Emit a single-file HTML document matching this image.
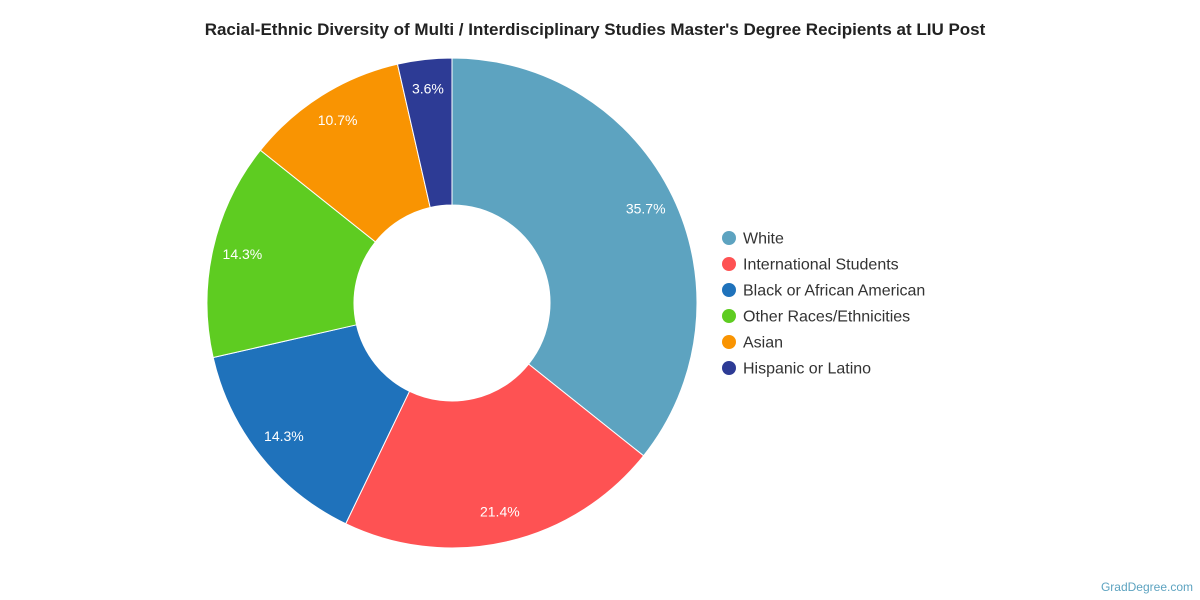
<!DOCTYPE html>
<html><head><meta charset="utf-8"><style>
html,body{margin:0;padding:0;background:#fff;}
svg{display:block;font-family:"Liberation Sans",Arial,sans-serif;}
</style></head><body>
<svg id="s" width="1200" height="600" viewBox="0 0 1200 600">
<text x="595" y="35" text-anchor="middle" font-size="17" font-weight="bold" fill="#222">Racial-Ethnic Diversity of Multi / Interdisciplinary Studies Master's Degree Recipients at LIU Post</text>
<g id="pie"></g>
<g font-size="16" fill="#333">
<circle cx="729" cy="238" r="7" fill="#5da3c0"/><text x="743" y="243.5">White</text>
<circle cx="729" cy="264" r="7" fill="#fe5253"/><text x="743" y="269.5">International Students</text>
<circle cx="729" cy="290" r="7" fill="#1f72bb"/><text x="743" y="295.5">Black or African American</text>
<circle cx="729" cy="316" r="7" fill="#5ecc21"/><text x="743" y="321.5">Other Races/Ethnicities</text>
<circle cx="729" cy="342" r="7" fill="#f99402"/><text x="743" y="347.5">Asian</text>
<circle cx="729" cy="368" r="7" fill="#2d3b95"/><text x="743" y="373.5">Hispanic or Latino</text>
</g>
<text x="1193" y="591" text-anchor="end" font-size="12" fill="#5da3c0">GradDegree.com</text>
</svg>
<script>
var cx=452,cy=303,R=245,r=98,L=215;
var d=[[10,"#5da3c0","35.7%"],[6,"#fe5253","21.4%"],[4,"#1f72bb","14.3%"],[4,"#5ecc21","14.3%"],[3,"#f99402","10.7%"],[1,"#2d3b95","3.6%"]];
var g=document.getElementById("pie"),h="",a=0;
function p(rad,ang){return [cx+rad*Math.sin(ang),cy-rad*Math.cos(ang)];}
d.forEach(function(s){
var a0=a/28*2*Math.PI;a+=s[0];var a1=a/28*2*Math.PI;var lg=(a1-a0)>Math.PI?1:0;
var A=p(R,a0),B=p(R,a1),C=p(r,a1),D=p(r,a0);
h+='<path d="M'+A+' A'+R+','+R+' 0 '+lg+' 1 '+B+' L'+C+' A'+r+','+r+' 0 '+lg+' 0 '+D+' Z" fill="'+s[1]+'" stroke="#fff" stroke-width="1"/>';
var m=p(L,(a0+a1)/2);
h+='<text x="'+m[0]+'" y="'+(m[1]+4)+'" text-anchor="middle" font-size="14" fill="#fff">'+s[2]+'</text>';
});
g.innerHTML=h;
</script>
</body></html>
